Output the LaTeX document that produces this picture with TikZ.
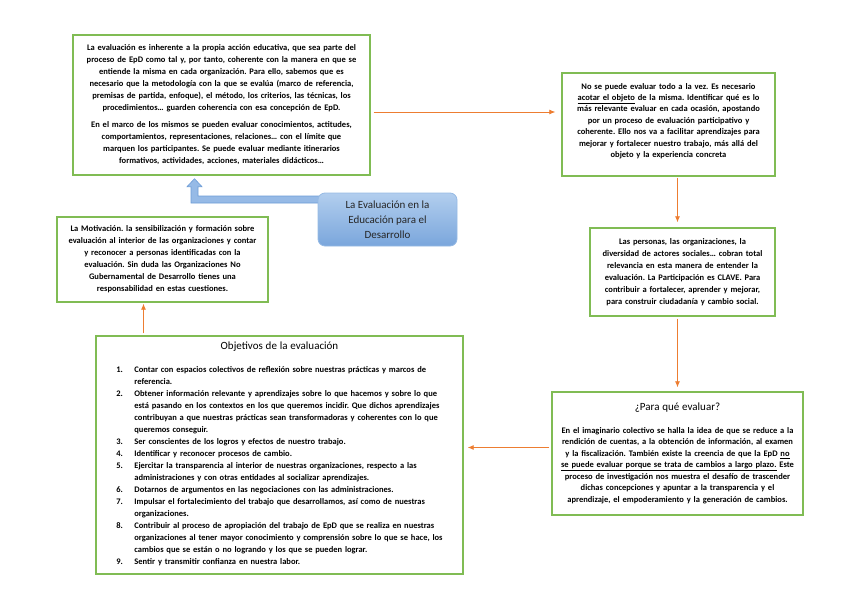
\documentclass[tikz,border=0pt]{standalone}
\usepackage{fontspec}
\setmainfont{Carlito}
\usepackage{tikz}
\usetikzlibrary{arrows.meta, positioning, calc}
\definecolor{boxgreen}{RGB}{128,188,84}
\definecolor{flowor}{RGB}{237,125,49}
\definecolor{themetop}{RGB}{178,206,238}
\definecolor{themebot}{RGB}{122,166,220}
\definecolor{themeline}{RGB}{150,186,228}
\definecolor{blockblue}{RGB}{150,186,230}
\definecolor{blockline}{RGB}{108,156,214}
\newcommand{\bodytext}{\fontsize{8.5}{12}\selectfont\bfseries}
\newcommand{\titletext}{\fontsize{11}{14}\selectfont}
\frenchspacing
\pgfdeclarelayer{back}
\pgfsetlayers{back,main}
\tikzset{
    greenbox/.style = {draw=boxgreen, line width=1.4pt, fill=white,
        align=center, inner xsep=4pt, inner ysep=2pt, font=\bodytext},
    themebox/.style = {draw=themeline, line width=0.8pt, rounded corners=7pt,
        top color=themetop, bottom color=themebot, align=center,
        minimum width=139pt, minimum height=53pt, text=black!85,
        font={\fontsize{11}{15}\selectfont}},
    blockarrow/.style = {fill=blockblue, draw=blockline, line width=0.6pt},
    flow/.style = {-{Latex[length=6pt,width=5pt]}, draw=flowor, line width=0.8pt},
}

\begin{document}
\begin{tikzpicture}[x=1pt, y={(0pt,-1pt)}]
    \useasboundingbox (0,0) rectangle (848,599);
    % boxes
    \node[greenbox, text width=289pt, minimum height=140pt] (marco) at (221.5,105)
        {La evaluación es inherente a la propia acción educativa, que sea parte del\\
        proceso de EpD como tal y, por tanto, coherente con la manera en que se\\
        entiende la misma en cada organización. Para ello, sabemos que es\\
        necesario que la metodología con la que se evalúa (marco de referencia,\\
        premisas de partida, enfoque), el método, los criterios, las técnicas, los\\
        procedimientos… guarden coherencia con esa concepción de EpD.\\[5pt]
        En el marco de los mismos se pueden evaluar conocimientos, actitudes,\\
        comportamientos, representaciones, relaciones… con el límite que\\
        marquen los participantes. Se puede evaluar mediante itinerarios\\
        formativos, actividades, acciones, materiales didácticos…};
    \node[greenbox, text width=205pt, minimum height=103pt,
        font={\fontsize{8.5}{11.4}\selectfont\bfseries}] (objeto) at (668.5,124.5)
        {No se puede evaluar todo a la vez. Es necesario\\
        \underline{acotar el objeto} de la misma. Identificar qué es lo\\
        más relevante evaluar en cada ocasión, apostando\\
        por un proceso de evaluación participativo y\\
        coherente. Ello nos va a facilitar aprendizajes para\\
        mejorar y fortalecer nuestro trabajo, más allá del\\
        objeto y la experiencia concreta\\[-3pt]~};
    \node[greenbox, text width=177pt, minimum height=88pt] (personas) at (682.5,272)
        {Las personas, las organizaciones, la\\
        diversidad de actores sociales… cobran total\\
        relevancia en esta manera de entender la\\
        evaluación. La Participación es CLAVE. Para\\
        contribuir a fortalecer, aprender y mejorar,\\
        para construir ciudadanía y cambio social.};
    \node[greenbox, text width=243pt, minimum height=123pt,
        font={\fontsize{8.5}{11.5}\selectfont\bfseries}] (paraque) at (677.5,453.5)
        {{\titletext\mdseries ¿Para qué evaluar?}\\[11pt]
        En el imaginario colectivo se halla la idea de que se reduce a la\\
        rendición de cuentas, a la obtención de información, al examen\\
        y la fiscalización. También existe la creencia de que la EpD \underline{no}\\
        \underline{se puede evaluar porque se trata de cambios a largo plazo.} Este\\
        proceso de investigación nos muestra el desafío de trascender\\
        dichas concepciones y apuntar a la transparencia y el\\
        aprendizaje, el empoderamiento y la generación de cambios.};
    \node[greenbox, text width=203pt, minimum height=85pt] (motivacion) at (162.5,259.5)
        {La Motivación. la sensibilización y formación sobre\\
        evaluación al interior de las organizaciones y contar\\
        y reconocer a personas identificadas con la\\
        evaluación. Sin duda las Organizaciones No\\
        Gubernamental de Desarrollo tienes una\\
        responsabilidad en estas cuestiones.};
    \node[greenbox, text width=359pt, minimum height=238pt] (objetivos) at (279.5,455)
        {{\titletext\mdseries Objetivos de la evaluación}\\[11pt]
        \begin{tabular}[t]{@{}p{18pt}@{}l@{}}
        1. & Contar con espacios colectivos de reflexión sobre nuestras prácticas y marcos de\\
           & referencia.\\
        2. & Obtener información relevante y aprendizajes sobre lo que hacemos y sobre lo que\\
           & está pasando en los contextos en los que queremos incidir. Que dichos aprendizajes\\
           & contribuyan a que nuestras prácticas sean transformadoras y coherentes con lo que\\
           & queremos conseguir.\\
        3. & Ser conscientes de los logros y efectos de nuestro trabajo.\\
        4. & Identificar y reconocer procesos de cambio.\\
        5. & Ejercitar la transparencia al interior de nuestras organizaciones, respecto a las\\
           & administraciones y con otras entidades al socializar aprendizajes.\\
        6. & Dotarnos de argumentos en las negociaciones con las administraciones.\\
        7. & Impulsar el fortalecimiento del trabajo que desarrollamos, así como de nuestras\\
           & organizaciones.\\
        8. & Contribuir al proceso de apropiación del trabajo de EpD que se realiza en nuestras\\
           & organizaciones al tener mayor conocimiento y comprensión sobre lo que se hace, los\\
           & cambios que se están o no logrando y los que se pueden lograr.\\
        9. & Sentir y transmitir confianza en nuestra labor.
        \end{tabular}};
    \node[themebox] (tema) at (387.5,219.5) {La Evaluación en la\\Educación para el\\Desarrollo};
    % connectors
    \coordinate (bstart) at ([yshift=20pt]tema.west);
    \coordinate (btip) at ([xshift=-27pt]marco.south);
    \begin{pgfonlayer}{back}
        \filldraw[blockarrow] ($(bstart)+(6,-3.5)$) -| ($(btip)+(3.5,11)$) -- ++(4,0)
            -- ($(btip)+(0,3)$) -- ++(-7.5,8) -- ++(4,0) |- ($(bstart)+(6,3.5)$) -- cycle;
    \end{pgfonlayer}
    \draw[flow, shorten <=3pt, shorten >=6pt] ([yshift=-7pt]marco.east) -- ([yshift=-7pt]marco.east -| objeto.west);
    \draw[flow, shorten <=1pt, shorten >=5pt] (paraque.north |- objeto.south) -- (paraque.north |- personas.north);
    \draw[flow, shorten <=2pt, shorten >=4pt] (paraque.north |- personas.south) -- (paraque.north);
    \draw[flow, shorten <=2pt, shorten >=4pt] ([yshift=6pt]paraque.west) -- ([yshift=6pt]paraque.west -| objetivos.east);
    \draw[flow, shorten <=2pt, shorten >=1pt] ([xshift=-19pt]motivacion.south |- objetivos.north) -- ([xshift=-19pt]motivacion.south);
\end{tikzpicture}
\end{document}
